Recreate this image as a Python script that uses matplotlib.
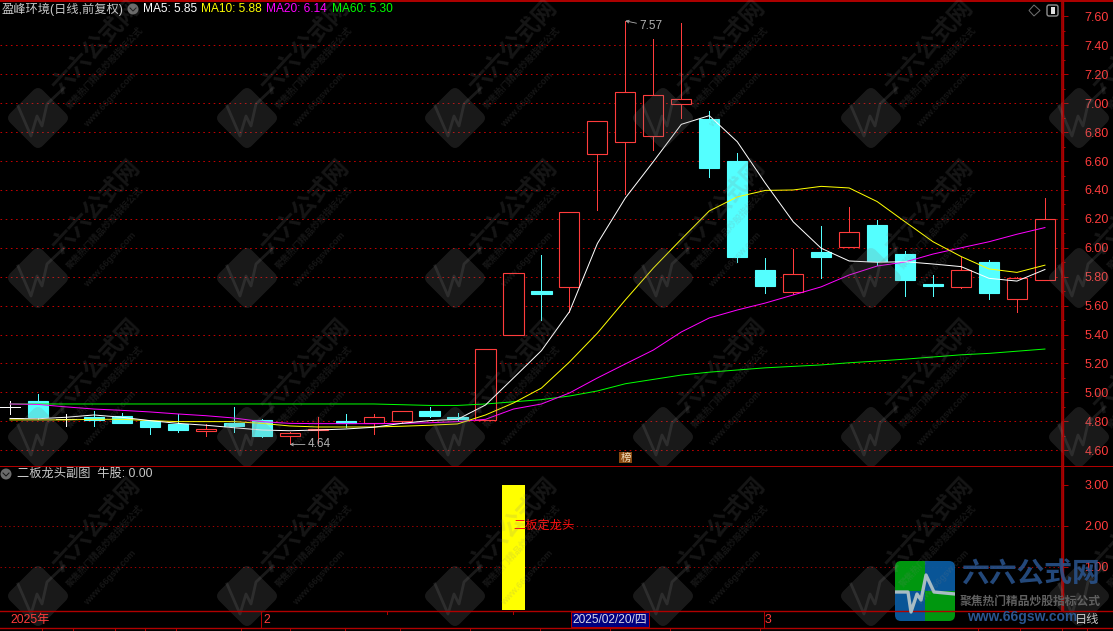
import numpy as np
import matplotlib
matplotlib.use("Agg")
import matplotlib.pyplot as plt
from matplotlib.patches import FancyBboxPatch, Rectangle, Circle, Polygon
from matplotlib.transforms import Affine2D

plt.rcParams['font.family'] = ['Liberation Sans', 'Noto Sans CJK SC', 'DejaVu Sans']

W, H = 1113, 631
RED = '#ff3c3c'
CYAN = '#54ffff'
LINE = '#b00000'
GRID = '#c00000'
PX = 0.72   # one pixel in points

# ── data ─────────────────────────────────────────────────────────────────────
opens = [4.90, 4.94, 4.814, 4.83, 4.837, 4.80, 4.782, 4.735, 4.789, 4.809, 4.697, 4.74, 4.80,
         4.787, 4.805, 4.872, 4.83, 4.81, 5.395, 5.70, 5.727, 6.647, 6.734, 6.776, 6.997,
         6.891, 6.60, 5.847, 5.697, 5.971, 6.008, 6.158, 5.957, 5.75, 5.731, 5.902, 5.644, 5.776]
closes = [4.90, 4.832, 4.814, 4.812, 4.79, 4.763, 4.742, 4.745, 4.768, 4.70, 4.717, 4.745, 4.787,
          4.828, 4.87, 4.84, 4.816, 5.298, 5.824, 5.68, 6.246, 6.875, 7.076, 7.055, 7.027,
          6.554, 5.939, 5.736, 5.817, 5.937, 6.107, 5.909, 5.778, 5.736, 5.847, 5.688, 5.789, 6.197]
highs = [4.943, 4.989, 4.851, 4.872, 4.858, 4.80, 4.853, 4.782, 4.897, 4.816, 4.729, 4.828, 4.851,
         4.851, 4.87, 4.899, 4.858, 5.298, 5.824, 5.95, 6.246, 6.875, 7.57, 7.444, 7.555,
         6.946, 6.654, 5.93, 5.992, 6.151, 6.285, 6.193, 5.98, 5.812, 5.935, 5.916, 5.80, 6.343]
lows = [4.851, 4.814, 4.77, 4.77, 4.79, 4.713, 4.729, 4.701, 4.729, 4.694, 4.64, 4.65, 4.761,
        4.715, 4.787, 4.832, 4.80, 4.81, 5.395, 5.50, 5.558, 6.262, 6.372, 6.677, 6.898,
        6.492, 5.902, 5.69, 5.68, 5.791, 6.008, 5.884, 5.67, 5.67, 5.72, 5.646, 5.558, 5.776]

ma5 = [4.82, 4.818, 4.828, 4.844, 4.828, 4.805, 4.786, 4.773, 4.756, 4.74, 4.735, 4.74, 4.747,
       4.759, 4.786, 4.805, 4.814, 4.913, 5.10, 5.289, 5.558, 6.03, 6.345, 6.596, 6.854,
       6.914, 6.734, 6.448, 6.18, 5.997, 5.909, 5.90, 5.904, 5.888, 5.87, 5.789, 5.77, 5.85]
ma10 = [4.81, 4.81, 4.81, 4.814, 4.814, 4.805, 4.798, 4.798, 4.798, 4.786, 4.768, 4.761, 4.761,
        4.761, 4.766, 4.773, 4.782, 4.844, 4.927, 5.03, 5.21, 5.41, 5.64, 5.86, 6.06,
        6.255, 6.352, 6.397, 6.40, 6.425, 6.414, 6.32, 6.18, 6.042, 5.94, 5.854, 5.83, 5.88]
ma20 = [4.92, 4.917, 4.90, 4.885, 4.876, 4.865, 4.851, 4.839, 4.823, 4.798, 4.786, 4.784, 4.784,
        4.784, 4.786, 4.79, 4.798, 4.814, 4.885, 4.92, 4.996, 5.10, 5.197, 5.293, 5.418,
        5.515, 5.57, 5.618, 5.674, 5.73, 5.812, 5.874, 5.902, 5.957, 6.0, 6.042, 6.094, 6.14]
ma60 = [4.92, 4.92, 4.92, 4.92, 4.92, 4.92, 4.92, 4.92, 4.92, 4.92, 4.92, 4.92, 4.92,
        4.92, 4.915, 4.91, 4.91, 4.92, 4.935, 4.95, 4.975, 5.01, 5.06, 5.09, 5.12,
        5.14, 5.155, 5.17, 5.18, 5.19, 5.205, 5.217, 5.23, 5.245, 5.26, 5.27, 5.285, 5.30]

sub_index = [18]
sub_values = [3.0]
price_ticks = [4.6, 4.8, 5.0, 5.2, 5.4, 5.6, 5.8, 6.0, 6.2, 6.4, 6.6, 6.8, 7.0, 7.2, 7.4, 7.6]
price_minor = [4.7, 4.9, 5.1, 5.3, 5.5, 5.7, 5.9, 6.1, 6.3, 6.5, 6.7, 6.9, 7.1, 7.3, 7.5]
sub_ticks = [1, 2, 3]
month_labels = ['2025年', '2', '3']
ma_labels = ['MA5: 5.85', 'MA10: 5.88', 'MA20: 6.14', 'MA60: 5.30']

# ── layout ───────────────────────────────────────────────────────────────────
fig = plt.figure(figsize=(W / 100, H / 100), dpi=100, facecolor='black')

def rect(top, bottom, right=1062):
    return [0, 1 - bottom / H, right / W, (bottom - top) / H]

ax = fig.add_axes(rect(2, 465), facecolor='black')
sub = fig.add_axes(rect(466, 610), facecolor='black')
ov = fig.add_axes([0, 0, 1, 1], facecolor='none', zorder=5)
ov.set_xlim(0, W)
ov.set_ylim(H, 0)
ov.axis('off')

xlim = (-0.3575, 37.61)
for a in (ax, sub):
    a.set_xlim(*xlim)
    a.set_xticks([])
    for s in ('top', 'left', 'bottom'):
        a.spines[s].set_visible(False)
    a.spines['right'].set_color(LINE)
    a.spines['right'].set_linewidth(1.2)
    a.yaxis.tick_right()
    a.tick_params(axis='y', which='major', colors=LINE, length=4, width=PX, pad=12,
                  labelcolor=RED, labelsize=9)
    a.tick_params(axis='y', which='minor', colors=LINE, length=2, width=PX)

# ── main panel ───────────────────────────────────────────────────────────────
ax.set_ylim(4.498, 7.70)
ax.set_yticks(price_ticks)
ax.set_yticks(price_minor, minor=True)
ax.set_yticklabels([f'{v:.2f}' for v in price_ticks])
for v in price_ticks[:-1]:
    ax.axhline(v, color=GRID, lw=PX, ls=(0, (1.6, 3.6)), zorder=1)

BODY = 0.72
for i, (o, c, h, l) in enumerate(zip(opens, closes, highs, lows)):
    top, bot = max(o, c), min(o, c)
    if c > o:
        col, face = RED, 'black'
    elif c < o:
        col, face = CYAN, CYAN
    else:
        col, face = 'white', 'white'
    ax.plot([i, i], [bot, l], color=col, lw=PX, zorder=2)
    ax.plot([i, i], [top, h], color=col, lw=PX, zorder=2)
    if c == o:
        ax.plot([i - BODY / 2, i + BODY / 2], [c, c], color=col, lw=PX, zorder=3)
    else:
        ax.add_patch(Rectangle((i - BODY / 2, bot), BODY, top - bot, facecolor=face,
                               edgecolor=col, lw=0.8, zorder=3))

xs = np.arange(len(ma5))
ax.plot(xs, ma60, color='#00ff00', lw=PX, zorder=4)
ax.plot(xs, ma20, color='#ff00ff', lw=PX, zorder=4)
ax.plot(xs, ma10, color='#ffff00', lw=PX, zorder=4)
ax.plot(xs, ma5, color='white', lw=PX, zorder=4)

arrow = dict(arrowstyle='->', color='#b0b0b0', lw=0.6, shrinkA=0, shrinkB=0, mutation_scale=5)
ax.annotate('7.57', xy=(22, 7.57), xytext=(10, -4), textcoords='offset points', color='#b0b0b0',
            fontsize=8.5, va='center', arrowprops=arrow, zorder=6)
ax.annotate('4.64', xy=(10, 4.64), xytext=(13, 0), textcoords='offset points', color='#b0b0b0',
            fontsize=8.5, va='center', arrowprops=arrow, zorder=6)

# ── sub panel ────────────────────────────────────────────────────────────────
sub.set_ylim(-0.049, 3.463)
sub.set_yticks(sub_ticks)
sub.set_yticklabels([f'{v:.2f}' for v in sub_ticks])
for v in sub_ticks[:2]:
    sub.axhline(v, color=GRID, lw=0.6, ls=(0, (1.6, 3.6)), zorder=1)
sub.bar(sub_index, [v + 0.049 for v in sub_values], bottom=-0.049, width=0.82,
        color='#ffff00', zorder=2)
sub.text(sub_index[0], 2, '二板定龙头', color='#ff1010', fontsize=8.8, ha='left', va='center', zorder=4)

# ── watermarks ───────────────────────────────────────────────────────────────
WM = '#808080'
for cy in (118, 278, 437, 596):
    for cx in (38, 247, 455, 663, 871, 1079):
        tr = Affine2D().rotate_deg_around(cx, cy, 45) + ov.transData
        ov.add_patch(FancyBboxPatch((cx - 17, cy - 17), 34, 34, boxstyle='round,pad=6,rounding_size=7',
                                    facecolor=WM, edgecolor='none', alpha=0.2, transform=tr))
        ov.plot([cx - 20, cx - 7, cx - 1, cx + 4, cx + 9, cx + 26],
                [cy - 12, cy + 18, cy - 2, cy + 8, cy - 14, cy - 30],
                color=WM, lw=2, alpha=0.2, clip_on=True)
        kw = dict(color=WM, alpha=0.17, rotation=47, ha='center', va='center',
                  rotation_mode='anchor', fontweight='bold', clip_on=True)
        ov.text(cx + 58, cy - 71, '六六公式网', fontsize=17, **kw)
        ov.text(cx + 67, cy - 50, '聚焦热门精品炒股指标公式', fontsize=6.5, **kw)
        ov.text(cx + 72, cy - 18, 'www.66gsw.com', fontsize=6.5, **kw)

# ── frame and header ─────────────────────────────────────────────────────────
ov.plot([0, W], [0.8, 0.8], color=LINE, lw=1.4)
ov.plot([0, W], [465.5, 465.5], color=LINE, lw=PX)
ov.plot([0, W], [611, 611], color=LINE, lw=1)
ov.plot([0, W], [627.5, 627.5], color=LINE, lw=1)
ov.plot([1062.5, 1062.5], [0, 611], color=LINE, lw=1)
for x in (42, 73, 115, 145, 176, 241, 290, 345, 400, 470, 540, 610, 670, 760, 978, 1020, 1062, 1087):
    ov.plot([x, x], [628, H], color=LINE, lw=PX)
for x in (387, 513):
    ov.plot([x, x], [611, 614], color=LINE, lw=PX)
ov.plot([261, 261], [611, 627], color=LINE, lw=PX)
ov.plot([764, 764], [611, 627], color=LINE, lw=PX)

GREY = '#c8c8c8'
ov.text(2, 9, '盈峰环境(日线,前复权)', color=GREY, fontsize=8.8, va='center')
for x, label, col in zip((143, 201, 266, 332), ma_labels, ('white', '#ffff00', '#ff00ff', '#00ff00')):
    ov.text(x, 9, label, color=col, fontsize=8.6, va='center')
ov.text(17, 474, '二板龙头副图  牛股: 0.00', color=GREY, fontsize=8.8, va='center')

for cx, cy in ((133, 9), (6, 474)):
    ov.add_patch(Circle((cx, cy), 5.5, facecolor='#6a6a6a', edgecolor='none'))
    ov.plot([cx - 3, cx, cx + 3], [cy - 1, cy + 2, cy - 1], color='#151515', lw=PX)

ov.add_patch(Polygon([(1034, 5), (1040, 10.5), (1034, 16), (1029, 10.5)], fill=False,
                     edgecolor='#707070', lw=PX))
ov.add_patch(FancyBboxPatch((1048, 6), 9, 9, boxstyle='round,pad=1,rounding_size=2', facecolor='black',
                            edgecolor='#909090', lw=1))
ov.add_patch(Rectangle((1051, 7), 3.5, 7, facecolor='#e0e0e0', edgecolor='none'))

ov.add_patch(Rectangle((619, 452), 13, 11, facecolor='#8a4a10', edgecolor='none'))
ov.text(625.5, 457.5, '榜', color='#f0e0c0', fontsize=7.5, ha='center', va='center')

# date strip
ov.text(10, 620, month_labels[0], color=RED, fontsize=8.8, va='center')
ov.text(263, 620, month_labels[1], color=RED, fontsize=8.8, va='center')
ov.text(765, 620, month_labels[2], color=RED, fontsize=8.8, va='center')
ov.add_patch(Rectangle((570.5, 612), 78, 15, facecolor='#000080', edgecolor=LINE, lw=PX))
ov.text(609.5, 619.5, '2025/02/20/四', color='#d8d8e8', fontsize=8.6, ha='center', va='center')

# site logo, bottom right
logo = [(895, 561, 30, 30, '#00a010'), (925, 561, 30, 30, '#0a5aa0'),
        (895, 591, 30, 30, '#0a5aa0'), (925, 591, 30, 30, '#00a010')]
clip = FancyBboxPatch((899, 565), 52, 52, boxstyle='round,pad=4,rounding_size=6', transform=ov.transData,
                      facecolor='none', edgecolor='none')
ov.add_patch(clip)
for x, y, w, h, c in logo:
    r = Rectangle((x, y), w, h, facecolor=c, edgecolor='none', alpha=0.95)
    ov.add_patch(r)
    r.set_clip_path(clip)
pulse, = ov.plot([895, 908, 911, 917, 921, 926, 934, 955], [592, 592, 612, 594, 600, 575, 592, 594],
                 color='#a8bcc4', lw=2.4)
pulse.set_clip_path(clip)
ov.text(1030, 575, '六六公式网', color='#2a5590', alpha=0.85, fontsize=20, fontweight='bold', ha='center', va='center')
ov.text(1030, 602, '聚焦热门精品炒股指标公式', color='#606060', fontsize=8.5, fontweight='bold', ha='center', va='center')
ov.text(1022, 617, 'www.66gsw.com', color='#2a5590', fontsize=10, fontweight='bold', ha='center', va='center')
ov.text(1087, 620, '日线', color=GREY, fontsize=8.8, ha='center', va='center')

fig.savefig('out.png', dpi=100, facecolor='black')
